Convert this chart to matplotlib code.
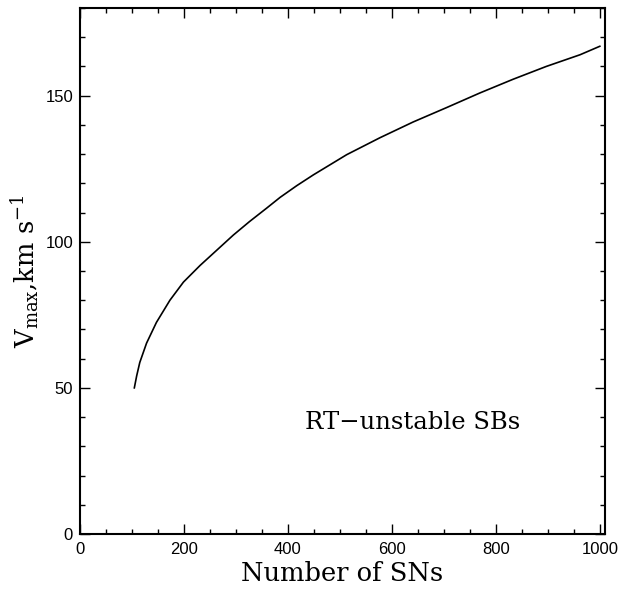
# Vmax vs number of SNs for RT-unstable superbubbles

import matplotlib
matplotlib.use("Agg")
import matplotlib.pyplot as plt
from matplotlib.ticker import MultipleLocator

plt.rcParams['mathtext.fontset'] = 'dejavuserif'

# Data
n_sn = [104.5, 109, 115, 128, 147, 173, 199, 231, 263, 295, 326, 359, 385, 417, 449,
        513, 577, 641, 705, 769, 833, 897, 962, 1000]
v_max = [50, 54.1, 58.7, 65.3, 72.4, 80.0, 86.2, 91.9, 97.1, 102.3, 106.9, 111.5, 115.2,
         119.2, 122.9, 129.8, 135.6, 141.0, 145.9, 150.9, 155.6, 160.0, 164.0, 166.9]

fig = plt.figure(figsize=(6.28, 5.92), dpi=100)
ax = fig.add_axes([0.1274, 0.098, 0.836, 0.8885])

ax.plot(n_sn, v_max, color='black', lw=1.2)

ax.set_xlim(0, 1010)
ax.set_ylim(0, 180)
ax.xaxis.set_major_locator(MultipleLocator(200))
ax.xaxis.set_minor_locator(MultipleLocator(50))
ax.yaxis.set_major_locator(MultipleLocator(50))
ax.yaxis.set_minor_locator(MultipleLocator(10))

ax.tick_params(which='both', direction='in', top=True, right=True, width=1.0)
ax.tick_params(which='major', length=7)
ax.tick_params(which='minor', length=3.6)
ax.tick_params(axis='x', pad=6)
ax.tick_params(axis='y', pad=5)
for lab in ax.get_xticklabels() + ax.get_yticklabels():
    lab.set_fontfamily('Liberation Sans')
    lab.set_fontsize(12)
for s in ax.spines.values():
    s.set_linewidth(1.5)

ax.set_xlabel('Number of SNs', fontfamily='DejaVu Serif', fontsize=18.5, labelpad=3)
ax.set_ylabel(r'V$_{\mathrm{max}}$,km s$^{-1}$', fontfamily='DejaVu Serif', fontsize=18.5,
              labelpad=3)

ax.text(433, 38, 'RT\u2212unstable SBs', fontfamily='DejaVu Serif', fontsize=17.5,
        ha='left', va='center')

plt.savefig("out.png", dpi=100)
plt.close(fig)
